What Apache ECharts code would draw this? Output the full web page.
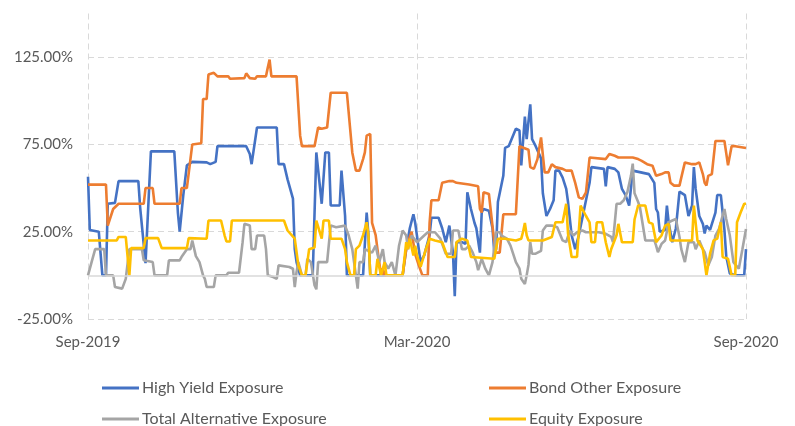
<!DOCTYPE html>
<html>
<head>
<meta charset="utf-8">
<script src="https://cdn.jsdelivr.net/npm/echarts@6/dist/echarts.min.js"></script>
<style>
  html, body { margin: 0; padding: 0; background: #fff; }
  #chart { width: 795px; height: 426px; }
</style>
</head>
<body>
<div id="chart"></div>
<script>
// x = days since 1 Sep 2019, y = exposure in %
const tickLabels = ['Sep-2019', 'Mar-2020', 'Sep-2020'];
const seriesNames = ['High Yield Exposure', 'Bond Other Exposure', 'Total Alternative Exposure', 'Equity Exposure'];
const colors = ['#4472C4', '#ED7D31', '#A5A5A5', '#FFC000'];

const highYield = [[0,56.5],[1,26],[6,25],[8,0],[10,0],[11,41],[15,41.5],[17,54],[28,54],[29,39],[30,38],[32,7],[35,71],[48,71],[50,36],[51,25],[53,46],[55,63],[58,65],[66,64.7],[68,63.7],[71,65],[72,74],[88,74],[89,75],[90,69.5],[91,63.7],[92,64.7],[94,84.7],[105,84.7],[106,63.7],[109,63.7],[111,55],[114,44],[115,15],[116,7.6],[118,0],[125,0],[127,70.4],[128,70.4],[130,41],[132,70.4],[134,70.4],[135,40],[140,40],[141,60],[143,34],[144,0],[153,0],[155,36],[156,23],[157,0],[175,0],[177,15],[179,27],[181,35],[182,30],[184,15],[185,7.6],[187,11.4],[190,23],[191,33],[195,33],[197,27],[199,19],[201,28.5],[203,13],[204,-12],[205,19],[208,19],[210,18],[211,47.6],[213,38],[215,30],[216,27],[218,13],[219,36],[220,38],[223,37],[225,27],[226,13],[227,15],[228,42],[231,57],[232,73],[234,74],[236,79],[238,84],[240,83],[241,63],[243,91],[244,78],[245,88],[246,98],[247,78],[249,74],[252,67],[253,47],[254,46],[255,34],[257,38],[259,43],[260,60],[262,60],[264,56],[266,49.5],[267,42],[269,23],[271,15],[273,23],[276,38],[279,53],[280,62],[287,61],[288,51],[289,62],[293,61],[295,59],[297,49.5],[299,46],[301,40],[303,60],[312,58],[315,53],[316,38],[317,36],[318,25],[321,26],[322,40],[323,30],[325,19],[327,27],[329,48],[330,48.5],[332,46],[334,34],[336,40],[337,62],[338,49.5],[340,34],[342,29.5],[343,24],[344,28.5],[346,26],[349,36],[350,46],[352,46],[354,26],[355,11],[357,1],[360,0],[365,0],[366,15]];

const bondOther = [[0,52],[10,52],[11,28.5],[14,38],[17,41],[31,41],[32,50],[36,50],[37,41],[51,41],[52,50],[55,50],[58,75],[63,75.7],[64,101],[66,101],[67,115],[70,116],[72,114],[78,114],[79,112.6],[87,113],[88,115.7],[90,113],[91,114],[93,112.6],[94,114],[99,114],[100,119],[101,123.6],[102,114],[116,114],[118,80],[119,74],[126,74],[128,84.7],[130,84],[133,84.7],[135,104.6],[144,104.6],[147,70.4],[149,60],[151,60],[153,66.6],[154,70.4],[155,80],[157,81],[158,30],[160,23],[161,15],[163,0],[164,4],[165,0],[175,0],[177,15],[178,19],[180,25],[182,12],[184,5.7],[185,4.8],[186,0],[189,0],[190,30],[191,43],[195,43],[197,53],[201,54],[203,54],[205,53],[206,52],[212,52],[217,51],[218,38],[219,36],[220,47.6],[223,46.6],[224,45.7],[226,19],[227,13],[229,13],[231,35],[238,35],[240,74],[241,74],[245,72],[246,62],[248,61],[250,66.6],[252,79],[253,78],[254,59],[256,59],[258,63.7],[260,62],[264,61],[266,60],[269,60],[271,53],[273,44.7],[275,43.8],[277,47.6],[279,67.5],[280,67.5],[288,66.6],[290,69.5],[293,68.5],[295,67.5],[303,67.5],[306,66.6],[308,65.6],[311,63.7],[314,62.8],[316,57],[317,56],[319,58],[321,59],[323,59],[324,53],[326,51.4],[329,51.4],[330,56],[332,64.7],[336,63.7],[338,63.7],[340,64.7],[342,58],[343,53],[344,51.4],[345,57],[347,58],[349,77],[354,77],[355,70],[356,63],[358,74],[360,74],[366,73]];

const totalAlt = [[0,0],[2,7.6],[4,15],[9,15],[10,0],[14,0],[15,-6.7],[19,-7.6],[21,-2],[23,15],[30,15],[31,8.6],[36,7.6],[37,0],[44,0],[45,8.6],[51,8.6],[52,10.5],[55,15],[57,15],[58,20],[60,11],[62,7.6],[64,0],[65,-2],[66,-6.7],[70,-6.7],[71,0],[77,0],[78,1.5],[84,1.5],[86,19],[87,29.5],[90,28.5],[91,15],[93,15],[94,22.8],[98,22.8],[99,15],[100,0],[103,-1],[105,-2],[106,5.7],[112,4.8],[114,3.8],[115,-6.7],[116,2],[117,7.6],[119,0],[121,0],[122,9.5],[124,7.6],[126,-5.7],[127,-8],[128,7.6],[133,7.6],[135,28.5],[138,27.6],[143,28.5],[145,22.8],[147,15],[149,0],[150,-7.6],[151,7.6],[153,7.6],[154,15],[158,13],[160,17],[162,7.6],[164,15],[165,7.6],[167,3.8],[169,7.6],[171,0],[173,17],[175,25.7],[177,22.8],[178,15],[180,22.8],[183,19],[184,19],[187,22.8],[189,24.7],[193,24.7],[196,21],[199,12.4],[202,12.4],[203,25.7],[206,25.7],[208,15],[210,15],[212,17],[214,13],[216,7.6],[217,3],[219,9.5],[221,3.8],[223,0],[225,7.6],[227,24.7],[229,24.7],[230,22.8],[233,21],[235,17],[238,7.6],[240,3.8],[241,-2],[243,-5],[244,0],[245,6],[246,19],[247,12.4],[249,12.4],[252,14],[253,25.7],[255,28.5],[258,28.5],[261,27.6],[264,20],[266,19],[268,25.7],[270,22.8],[272,24.7],[275,25.7],[277,24.7],[284,24.7],[288,23.8],[291,22],[292,19],[294,41],[296,41],[298,43],[300,47.6],[302,57],[303,64],[304,47],[306,42],[307,39],[310,20],[315,20],[316,17],[317,13.3],[319,18],[321,20],[323,30.4],[325,31.4],[327,32.3],[329,22],[330,15],[332,7.6],[334,19],[337,19],[338,15],[340,20],[342,15],[343,13.3],[345,5.7],[347,10.5],[349,22.8],[351,26.6],[354,38],[355,32.3],[357,22.8],[359,7.6],[362,3.8],[364,15],[366,26.6]];

const equity = [[0,20],[16,20],[17,22],[21,22],[23,0],[24,15.6],[31,15.6],[32,21.3],[39,21.3],[41,15.6],[55,15.6],[56,21.3],[66,21],[67,31.4],[74,31.4],[76,22.8],[77,19.4],[79,19.4],[80,31.4],[87,31.4],[88,32.3],[90,31.4],[109,31.4],[111,25.7],[115,21],[116,20],[117,5.7],[119,0],[121,0],[123,15],[124,16],[126,16],[127,31.4],[130,21],[131,31.4],[134,31.4],[135,21],[141,21],[143,15],[144,7.6],[146,0],[148,0],[149,15],[151,17],[153,23],[155,30.4],[156,23],[157,0],[160,0],[161,9.5],[163,0],[165,7.6],[166,0],[175,0],[177,19],[178,15],[179,21],[181,11.4],[182,17],[183,11.4],[185,4.8],[188,15.2],[190,21],[193,20],[197,19],[200,10.5],[204,10.5],[205,19],[208,21],[211,20],[213,10.5],[226,9.5],[228,21],[232,21],[238,20],[241,21],[242,25],[243,30],[244,23],[245,20],[246,19],[253,20],[254,21],[258,22],[260,30.4],[264,30.4],[266,41],[267,24],[269,10.5],[272,10.5],[274,40],[277,34],[279,30.4],[280,19],[282,19],[283,30.4],[286,30.4],[288,19],[290,10.5],[291,15],[294,23],[295,29.5],[297,19],[303,19],[304,32],[306,40],[310,40],[312,30.4],[314,29.5],[316,19],[317,19],[319,22.8],[321,28.5],[323,29.5],[324,20],[336,20],[337,40],[339,20],[342,15],[343,7.6],[344,0],[346,12.4],[348,20],[350,21],[352,30.4],[353,10.5],[356,9.5],[358,0],[360,0],[361,30.4],[363,36],[365,41],[366,41]];

const seriesData = [highYield, bondOther, totalAlt, equity];

const font = 'Lato, "Open Sans", sans-serif';
const textColor = '#595959';
const gridColor = '#D9D9D9';

const chart = echarts.init(document.getElementById('chart'), null, { renderer: 'canvas' });

// one legend per item so the 2x2 layout is fixed
function legendItem(name, left, top) {
  return {
    data: [name],
    left: left,
    top: top,
    padding: 0,
    icon: 'rect',
    itemWidth: 37,
    itemHeight: 3,
    textStyle: { color: textColor, fontFamily: font, fontSize: 16, padding: [0, 0, 0, -2] }
  };
}

const series = seriesNames.map((name, i) => ({
  name: name,
  type: 'line',
  data: seriesData[i],
  symbol: 'none',
  smooth: false,
  z: 3,
  color: colors[i],
  lineStyle: { width: 2.6, color: colors[i] }
}));

// zero line, under the data
series.unshift({
  name: 'zero',
  type: 'line',
  data: [],
  z: 1,
  silent: true,
  markLine: {
    silent: true,
    symbol: 'none',
    label: { show: false },
    lineStyle: { color: gridColor, width: 1.5, type: 'solid' },
    data: [{ yAxis: 0 }]
  }
});

chart.setOption({
  backgroundColor: '#fff',
  animation: false,
  grid: { left: 88, right: 49, top: 13.5, bottom: 107 },
  legend: [
    legendItem(seriesNames[0], 102, 380),
    legendItem(seriesNames[2], 102, 411),
    legendItem(seriesNames[1], 489, 380),
    legendItem(seriesNames[3], 489, 411)
  ],
  xAxis: {
    type: 'value',
    min: 0,
    max: 366,
    interval: 183,
    axisLine: { show: false },
    axisTick: { show: false },
    axisLabel: {
      color: textColor,
      fontFamily: font,
      fontSize: 15,
      margin: 16,
      showMinLabel: true,
      showMaxLabel: true,
      formatter: v => tickLabels[Math.round(v / 183)]
    },
    splitLine: { show: true, lineStyle: { color: gridColor, type: [6, 4], width: 1 } }
  },
  yAxis: {
    type: 'value',
    min: -25,
    max: 150,
    interval: 50,
    axisLine: { show: false },
    axisTick: { show: false },
    axisLabel: {
      color: textColor,
      fontFamily: font,
      fontSize: 15,
      margin: 15,
      showMaxLabel: false,
      formatter: v => v.toFixed(2) + '%'
    },
    splitLine: { show: true, showMaxLine: false, lineStyle: { color: gridColor, type: [6, 4], width: 1 } }
  },
  series: series
});
</script>
</body>
</html>
